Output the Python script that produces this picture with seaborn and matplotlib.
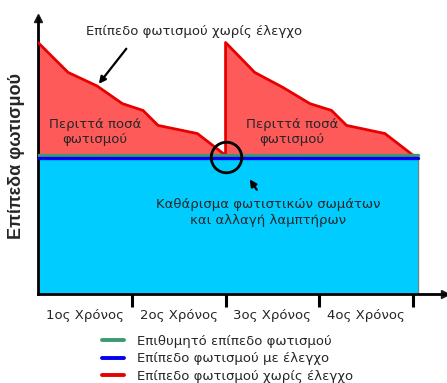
import numpy as np
import pandas as pd
import matplotlib
matplotlib.use("Agg")
import matplotlib.pyplot as plt
import seaborn as sns

# --- data (years on x, relative lighting level on y) ---
years_red = [0.0, 0.32, 0.63, 0.90, 1.12, 1.28, 1.70, 2.0,
             2.0, 2.31, 2.61, 2.90, 3.13, 3.29, 3.70, 4.0]
level_red = [185, 163, 153, 140, 135, 124, 118, 102,
             185, 163, 152, 140, 135, 124, 118, 102]
years_flat = [0.0, 4.05]
level_desired = [102, 102]
level_control = [100, 100]
year_labels = ["1ος Χρόνος", "2ος Χρόνος", "3ος Χρόνος", "4ος Χρόνος"]
legend_labels = ["Επιθυμητό επίπεδο φωτισμού",
                 "Επίπεδο φωτισμού με έλεγχο",
                 "Επίπεδο φωτισμού χωρίς έλεγχο"]

sns.set_theme(style="white")
plt.rcParams["font.family"] = ["DejaVu Sans"]
FS = 9.5

fig = plt.figure(figsize=(4.47, 3.83), dpi=100)
ax = fig.add_axes([38 / 447, (383 - 294) / 383, (445 - 38) / 447, (294 - 18) / 383])

df_red = pd.DataFrame({"year": years_red, "level": level_red})
df_flat = pd.DataFrame({"year": years_flat * 2,
                        "level": level_desired + level_control,
                        "series": ["desired"] * 2 + ["control"] * 2})

# fills
ax.fill_between(years_flat, 0, level_control, color="#00CCFF", lw=0, zorder=1)
ax.plot([years_flat[1]] * 2, [0, level_desired[0]], color="#5f8f8f", lw=1, zorder=1)
ax.fill_between(years_red, level_desired[0], level_red, color="#FF5A5A", lw=0, zorder=1)

# lines
sns.lineplot(data=df_red, x="year", y="level", sort=False, estimator=None,
             color="#E80000", lw=2, ax=ax, zorder=3)
sns.lineplot(data=df_flat, x="year", y="level", hue="series",
             palette={"desired": "#3C9A70", "control": "#0000EE"},
             estimator=None, lw=2.4, ax=ax, legend=False, zorder=4)

# circle around the maintenance point
ax.plot([2.0], [100.5], marker="o", ms=22, mfc="none", mec="black", mew=2, zorder=5)

ax.set_xlim(0, 4.34)
ax.set_ylim(0, 203)
ax.set_xlabel("")
ax.set_ylabel("Επίπεδα φωτισμού", fontsize=13, fontweight="bold", labelpad=9,
              family=["Liberation Sans", "DejaVu Sans"])

ax.set_xticks([1, 2, 3, 4])
ax.set_xticklabels([])
ax.set_xticks([0.5, 1.5, 2.5, 3.5], minor=True)
ax.set_xticklabels(year_labels, minor=True, fontsize=FS)
ax.tick_params(axis="x", which="major", direction="out", length=9, width=2.2,
               color="black", bottom=True)
ax.tick_params(axis="x", which="minor", length=0, pad=11)
ax.set_yticks([])

for s in ["top", "right"]:
    ax.spines[s].set_visible(False)
for s in ["left", "bottom"]:
    ax.spines[s].set_color("black")
    ax.spines[s].set_linewidth(2)
ax.plot(1, 0, ">k", ms=6, transform=ax.transAxes, clip_on=False)
ax.plot(0, 1, "^k", ms=6, transform=ax.transAxes, clip_on=False)

# annotations
ax.text(1.66, 193, "Επίπεδο φωτισμού χωρίς έλεγχο", ha="center", va="center", fontsize=FS)
ax.annotate("", xy=(0.63, 153), xytext=(0.96, 182),
            arrowprops=dict(arrowstyle="-|>", color="black", lw=1.6, mutation_scale=10))
ax.text(0.61, 119, "Περιττά ποσά\nφωτισμού", ha="center", va="center",
        fontsize=FS, linespacing=1.15)
ax.text(2.71, 119, "Περιττά ποσά\nφωτισμού", ha="center", va="center",
        fontsize=FS, linespacing=1.15)
ax.text(2.45, 60, "Καθάρισμα φωτιστικών σωμάτων\nκαι αλλαγή λαμπτήρων",
        ha="center", va="center", fontsize=FS, linespacing=1.3)
ax.annotate("", xy=(2.24, 86), xytext=(2.35, 75),
            arrowprops=dict(arrowstyle="-|>", color="black", lw=1.6, mutation_scale=10))

# legend
handles = [plt.Line2D([], [], color=c, lw=2.8)
           for c in ["#3C9A70", "#0000EE", "#E80000"]]
fig.legend(handles, legend_labels, loc="upper left", bbox_to_anchor=(102 / 447, 1 - 335 / 383),
           frameon=False, fontsize=FS, handlelength=1.7, handletextpad=0.95,
           labelspacing=0.33, borderpad=0, borderaxespad=0)

fig.savefig("out.png", dpi=100)
